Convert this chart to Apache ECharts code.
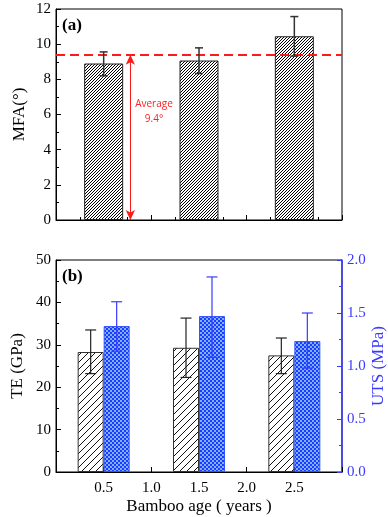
<!DOCTYPE html>
<html>
<head>
<meta charset="utf-8">
<script src="https://cdn.jsdelivr.net/npm/echarts@6/dist/echarts.min.js"></script>
<style>
html,body{margin:0;padding:0;background:#fff;}
#main{width:388px;height:517px;}
</style>
</head>
<body>
<div id="main"></div>
<script>
// data
var ages = ['0.5', '1.5', '2.5'];
var mfa = [8.9, 9.07, 10.45];
var mfaLow = [8.2, 8.33, 9.32];
var mfaHigh = [9.56, 9.79, 11.57];
var mfaAvg = 9.4;
var avgArrowX = 0.78;
var te = [28.3, 29.3, 27.5];
var teLow = [23.2, 22.3, 23.2];
var teHigh = [33.5, 36.3, 31.6];
var uts = [1.377, 1.471, 1.235];
var utsLow = [1.14, 1.081, 0.98];
var utsHigh = [1.606, 1.84, 1.50];
var xTicks = [0, 3, 0.5]; // min, max, interval of the age axis

var serif = 'Liberation Serif, Times New Roman, serif';
var blue = '#3a3aff';

function hatch(size, color, bg){
	var c = document.createElement('canvas');
	c.width = size; c.height = size;
	var g = c.getContext('2d');
	g.fillStyle = bg; g.fillRect(0, 0, size, size);
	g.strokeStyle = color; g.lineWidth = 1;
	g.beginPath();
	g.moveTo(-1, size + 1); g.lineTo(size + 1, -1);
	g.moveTo(-1, 1); g.lineTo(1, -1);
	g.moveTo(size - 1, size + 1); g.lineTo(size + 1, size - 1);
	g.stroke();
	return c;
}
function checker(){
	var c = document.createElement('canvas');
	c.width = 4; c.height = 4;
	var g = c.getContext('2d');
	g.fillStyle = '#1e3cff'; g.fillRect(0, 0, 4, 4);
	g.fillStyle = '#7fb0ff';
	g.fillRect(0, 0, 2, 2); g.fillRect(2, 2, 2, 2);
	return c;
}

function errData(low, high){
	var d = [];
	for (var i = 0; i < low.length; i++) d.push([i, low[i], high[i]]);
	return d;
}
function errRender(offset, cap, color, w){
	return function(params, api){
		var lo = api.coord([api.value(0), api.value(1)]);
		var hi = api.coord([api.value(0), api.value(2)]);
		var x = lo[0] + offset;
		var st = {stroke: color, lineWidth: w};
		return {type: 'group', children: [
			{type: 'line', shape: {x1: x, y1: lo[1], x2: x, y2: hi[1]}, style: st},
			{type: 'line', shape: {x1: x - cap/2, y1: lo[1], x2: x + cap/2, y2: lo[1]}, style: st},
			{type: 'line', shape: {x1: x - cap/2, y1: hi[1], x2: x + cap/2, y2: hi[1]}, style: st}
		]};
	};
}

function valX(grid, showLabel){
	return {
		type: 'value', gridIndex: grid, position: 'bottom', min: xTicks[0], max: xTicks[1], interval: xTicks[2],
		axisLine: {show: true, onZero: false, lineStyle: {color: '#000', width: 1}},
		axisTick: {show: true, inside: true, length: 5, lineStyle: {color: '#000'}},
		minorTick: {show: true, splitNumber: 2, length: 3, lineStyle: {color: '#000'}},
		splitLine: {show: false},
		axisLabel: {show: showLabel, margin: 9, fontFamily: serif, fontSize: 15, color: '#000',
			formatter: function(v){ return (v === xTicks[0] || v === xTicks[1]) ? '' : v.toFixed(1); }},
		name: showLabel ? 'Bamboo age ( years )' : '', nameLocation: 'middle', nameGap: 26, nameMoveOverlap: false,
		nameTextStyle: {fontFamily: serif, fontSize: 17, color: '#000'}
	};
}
function catX(grid){
	return {type: 'category', gridIndex: grid, position: 'bottom', data: ages, boundaryGap: true,
		axisLine: {show: false}, axisTick: {show: false}, axisLabel: {show: false}, splitLine: {show: false}};
}
function valY(grid, max, interval, name, color, right, fmt, gap){
	return {
		type: 'value', gridIndex: grid, min: 0, max: max, interval: interval, position: right ? 'right' : 'left',
		axisLine: {show: true, lineStyle: {color: color, width: right ? 1.5 : 1}},
		axisTick: {show: true, inside: true, length: 5, lineStyle: {color: color}},
		minorTick: {show: true, splitNumber: 2, length: 3, lineStyle: {color: color}},
		splitLine: {show: false},
		axisLabel: {margin: 5, fontFamily: serif, fontSize: 15, color: color, formatter: fmt},
		name: name, nameLocation: 'middle', nameGap: gap, nameMoveOverlap: false,
		nameTextStyle: {fontFamily: serif, fontSize: 17, color: color}
	};
}

var myChart = echarts.init(document.getElementById('main'));
var option = {
	animation: false,
	grid: [
		{left: 56, right: 46, top: 9, height: 211, outerBoundsMode: 'none', containLabel: false,
			show: true, borderColor: '#000', borderWidth: 1, backgroundColor: 'transparent'},
		{left: 56, right: 46, top: 260, height: 212, outerBoundsMode: 'none', containLabel: false,
			show: true, borderColor: '#000', borderWidth: 1, backgroundColor: 'transparent'}
	],
	xAxis: [catX(0), valX(0, false), catX(1), valX(1, true)],
	yAxis: [
		valY(0, 12, 2, 'MFA(°)', '#000', false, null, 28),
		valY(1, 50, 10, 'TE (GPa)', '#000', false, null, 30),
		valY(1, 2, 0.5, 'UTS (MPa)', blue, true, function(v){ return v.toFixed(1); }, 28)
	],
	graphic: [
		{type: 'text', left: 62, top: 17, style: {text: '(a)', fontFamily: serif, fontSize: 17, fontWeight: 'bold', fill: '#000'}},
		{type: 'text', left: 62, top: 268, style: {text: '(b)', fontFamily: serif, fontSize: 17, fontWeight: 'bold', fill: '#000'}},
		{type: 'text', style: {x: 154, y: 104, text: 'Average', align: 'center', verticalAlign: 'middle', fontFamily: 'Open Sans, sans-serif', fontSize: 10, fill: '#ff2020'}},
		{type: 'text', style: {x: 154, y: 119, text: '9.4°', align: 'center', verticalAlign: 'middle', fontFamily: 'Open Sans, sans-serif', fontSize: 10, fill: '#ff2020'}}
	],
	series: [
		{
			name: 'MFA', type: 'bar', xAxisIndex: 0, yAxisIndex: 0, barWidth: 39, data: mfa,
			itemStyle: {color: {image: hatch(3, '#000', '#fff'), repeat: 'repeat'}, borderColor: '#222', borderWidth: 1},
			markLine: {
				silent: true, symbol: ['none', 'none'],
				lineStyle: {color: '#ff1a1a', type: [9, 5], width: 2},
				label: {show: false},
				data: [{yAxis: mfaAvg}]
			},
			z: 2
		},
		{
			type: 'custom', xAxisIndex: 0, yAxisIndex: 0, data: errData(mfaLow, mfaHigh),
			renderItem: errRender(0, 8, '#333', 1.5), z: 5
		},
		{
			type: 'scatter', xAxisIndex: 1, yAxisIndex: 0, data: [], symbolSize: 0,
			markLine: {
				silent: true, symbol: ['arrow', 'arrow'], symbolSize: [7, 10],
				lineStyle: {color: '#ff1a1a', type: 'solid', width: 1},
				label: {show: false},
				data: [[{coord: [avgArrowX, 0]}, {coord: [avgArrowX, mfaAvg]}]]
			}
		},
		{
			name: 'TE', type: 'bar', xAxisIndex: 2, yAxisIndex: 1, barWidth: 26, barGap: '0%', data: te,
			itemStyle: {color: {image: hatch(7, '#111', '#fff'), repeat: 'repeat'}, borderColor: '#333', borderWidth: 1}
		},
		{
			name: 'UTS', type: 'bar', xAxisIndex: 2, yAxisIndex: 2, barWidth: 26, barGap: '0%', data: uts,
			itemStyle: {color: {image: checker(), repeat: 'repeat'}, borderColor: '#3355ff', borderWidth: 1}
		},
		{
			type: 'custom', xAxisIndex: 2, yAxisIndex: 1, data: errData(teLow, teHigh),
			renderItem: errRender(-13, 11, '#222', 1.2), z: 5
		},
		{
			type: 'custom', xAxisIndex: 2, yAxisIndex: 2, data: errData(utsLow, utsHigh),
			renderItem: errRender(13, 11, blue, 1.2), z: 5
		}
	]
};
myChart.setOption(option);
</script>
</body>
</html>
